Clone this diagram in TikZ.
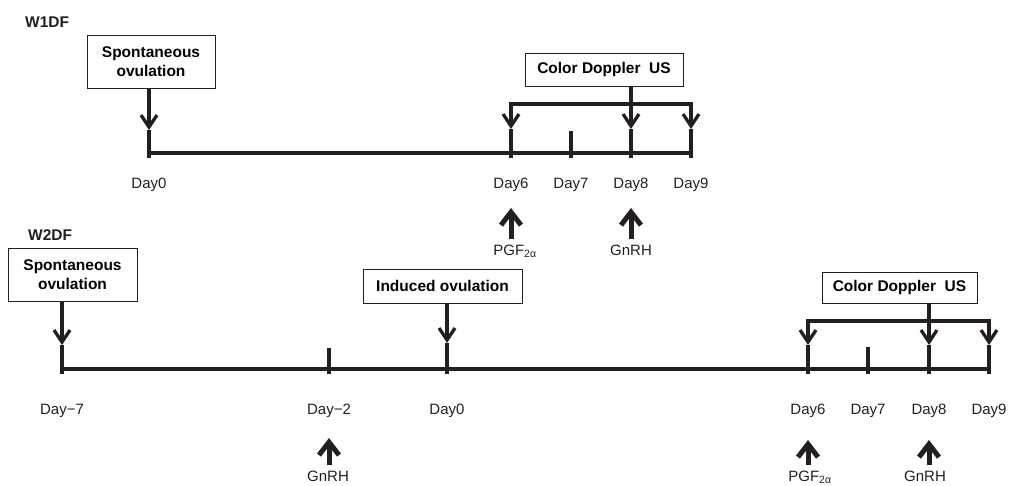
\documentclass[tikz,border=0pt]{standalone}
\usepackage{fontspec}
\setmainfont{Liberation Sans}
\usetikzlibrary{arrows.meta}
\definecolor{ink}{RGB}{35,31,32}

\begin{document}
\fontsize{15}{18}\selectfont
\begin{tikzpicture}[
  x=1pt, y=-1pt,
  line/.style={draw=ink, line width=4pt},
  eventbox/.style={draw=ink, line width=1pt, font=\fontsize{15.5}{18.5}\selectfont\bfseries, align=center, inner sep=0pt},
  daylabel/.style={anchor=base, text=ink},
  grouplabel/.style={anchor=base west, text=ink, font=\fontsize{15.5}{18.5}\selectfont\bfseries},
  downarrow/.style={draw=ink, line width=3.3pt, -{Straight Barb[length=12pt,width=16pt]}},
  bracket/.style={draw=ink, line width=3.3pt, {Straight Barb[length=12pt,width=16pt]}-{Straight Barb[length=12pt,width=16pt]}},
  uparrow/.style={draw=ink, line width=5pt, -{Straight Barb[length=13pt,width=20pt]}}]
  \useasboundingbox (0,0) rectangle (1015,485);
  % ---------------- W1DF ----------------
  \node[grouplabel] (w1) at (20,27) {W1DF};
  % draw day ticks and labels
  \foreach \d/\x/\top in {0/149/130,6/511/129,7/571/131,8/631/129,9/691/129} {
    \coordinate (top1\d) at (\x,\top);
    \coordinate (foot1\d) at (\x,158);
    \coordinate (axis1\d) at (\x,153);
    \node[daylabel] (day1\d) at (\x,188) {Day\d};
    \draw[line] (top1\d) -- (foot1\d);
  }
  \draw[line] (axis10) -- (axis19);
  % spontaneous ovulation
  \node[eventbox,minimum width=128,minimum height=53] (spont1) at (151,61.5) {Spontaneous\\ovulation};
  \draw[downarrow] (spont1.south -| top10) -- (top10);
  % color doppler bracket
  \node[eventbox,minimum width=158,minimum height=33] (us1) at (604,69.5) {Color Doppler\ \ US};
  \coordinate (br19) at (691,104);
  \draw[bracket] (top16) |- (br19) -- (top19);
  \draw[downarrow] (us1.south -| top18) -- (top18);
  % hormone treatments
  \node[daylabel] (pgf1) at (515,255) {PGF\textsubscript{2α}};
  \node[daylabel] (gnrh1) at (631,255) {GnRH};
  \coordinate (hor16) at (511,208);
  \coordinate (hor18) at (631,208);
  \draw[uparrow] (pgf1.north -| hor16) -- (hor16);
  \draw[uparrow] (gnrh1.north -| hor18) -- (hor18);
  % ---------------- W2DF ----------------
  \node[grouplabel] (w2) at (23,240) {W2DF};
  % draw day ticks and labels
  \foreach \d/\x/\top/\t in {m7/62/345/{Day−7},m2/329/348/{Day−2},0/447/343/Day0,6/808/345/Day6,7/868/347/Day7,8/929/345/Day8,9/989/345/Day9} {
    \coordinate (top2\d) at (\x,\top);
    \coordinate (foot2\d) at (\x,374);
    \coordinate (axis2\d) at (\x,369);
    \node[daylabel] (day2\d) at (\x,414) {\t};
    \draw[line] (top2\d) -- (foot2\d);
  }
  \draw[line] (axis2m7) -- (axis29);
  % spontaneous and induced ovulation
  \node[eventbox,minimum width=129,minimum height=53] (spont2) at (72.5,274.5) {Spontaneous\\ovulation};
  \draw[downarrow] (spont2.south -| top2m7) -- (top2m7);
  \node[eventbox,minimum width=159,minimum height=34] (induced2) at (442.5,286) {Induced ovulation};
  \draw[downarrow] (induced2.south -| top20) -- (top20);
  % color doppler bracket
  \node[eventbox,minimum width=155,minimum height=31] (us2) at (899.5,287.5) {Color Doppler\ \ US};
  \coordinate (br29) at (989,321);
  \draw[bracket] (top26) |- (br29) -- (top29);
  \draw[downarrow] (us2.south -| top28) -- (top28);
  % hormone treatments
  \node[daylabel] (gnrh2m2) at (328,481) {GnRH};
  \node[daylabel] (pgf2) at (810,481) {PGF\textsubscript{2α}};
  \node[daylabel] (gnrh2) at (925,481) {GnRH};
  \coordinate (hor2m2) at (329,438);
  \coordinate (hor26) at (808,440);
  \coordinate (hor28) at (929,440);
  \draw[uparrow] (gnrh2m2.north -| hor2m2) -- (hor2m2);
  \draw[uparrow] (pgf2.north -| hor26) -- (hor26);
  \draw[uparrow] (gnrh2.north -| hor28) -- (hor28);
\end{tikzpicture}
\end{document}
